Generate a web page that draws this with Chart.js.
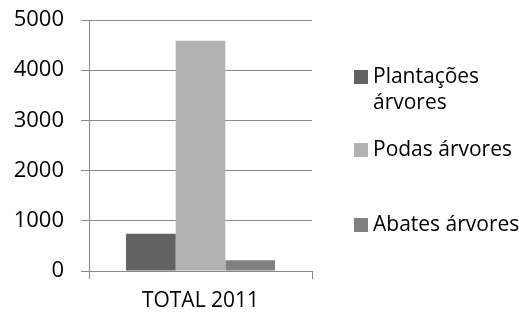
<!DOCTYPE html>
<html>
<head>
<meta charset="utf-8">
<script src="https://cdn.jsdelivr.net/npm/chart.js@4/dist/chart.umd.min.js"></script>
<style>
html,body{margin:0;padding:0;background:#fff;}
#wrap{position:relative;width:519px;height:314px;}
</style>
</head>
<body>
<div id="wrap"><canvas id="c" width="519" height="314"></canvas></div>
<script>
const categories = ["TOTAL 2011"];
const seriesNames = [["Plantações", "árvores"], ["Podas árvores"], ["Abates árvores"]];
const plantacoes = [740];
const podas = [4585];
const abates = [215];
const yTicks = [0, 1000, 2000, 3000, 4000, 5000];
const colors = ["#626262", "#b2b2b2", "#808080"];

const FONT = "'Open Sans', sans-serif";
const values = [plantacoes, podas, abates];

const legendPlugin = {
  id: 'customLegend',
  afterDraw(chart) {
    const ctx = chart.ctx;
    ctx.save();
    ctx.font = "21px " + FONT;
    ctx.textBaseline = 'middle';
    ctx.fillStyle = '#000';
    const firstY = [77, 150, 225];
    chart.data.datasets.forEach((ds, i) => {
      const lines = seriesNames[i];
      const y0 = firstY[i];
      ctx.fillStyle = ds.backgroundColor;
      ctx.fillRect(354, y0 - 7, 14, 14);
      ctx.fillStyle = '#000';
      lines.forEach((ln, j) => ctx.fillText(ln, 373, y0 + j * 26));
    });
    ctx.restore();
  }
};

new Chart(document.getElementById('c'), {
  type: 'bar',
  data: {
    labels: categories,
    datasets: values.map((v, i) => ({
      label: seriesNames[i].join(' '),
      data: v,
      backgroundColor: colors[i],
      borderWidth: 0,
      categoryPercentage: 0.668,
      barPercentage: 1.0
    }))
  },
  options: {
    responsive: false,
    animation: false,
    devicePixelRatio: 1,
    layout: { padding: { top: 20, right: 207, bottom: 0, left: 0 } },
    plugins: { legend: { display: false }, tooltip: { enabled: false } },
    scales: {
      x: {
        offset: true,
        grid: { display: true, drawOnChartArea: false, drawTicks: true, tickLength: 8, color: '#888', lineWidth: 1 },
        border: { display: true, color: '#888', width: 1 },
        ticks: { color: '#000', font: { family: FONT, size: 21 }, padding: 9 },
        afterFit(s) { s.height = 43; s.paddingLeft = 0; s.paddingRight = 0; }
      },
      y: {
        min: 0, max: 5000,
        afterBuildTicks(s) { s.ticks = yTicks.map(v => ({ value: v })); },
        grid: { color: '#888', lineWidth: 1, drawTicks: true, tickLength: 8 },
        border: { display: true, color: '#888', width: 1 },
        ticks: { color: '#000', font: { family: FONT, size: 22 }, padding: 17, callback: v => String(v) },
        afterFit(s) { s.width = 89; s.paddingTop = 0; s.paddingBottom = 0; }
      }
    }
  },
  plugins: [legendPlugin]
});
</script>
</body>
</html>
